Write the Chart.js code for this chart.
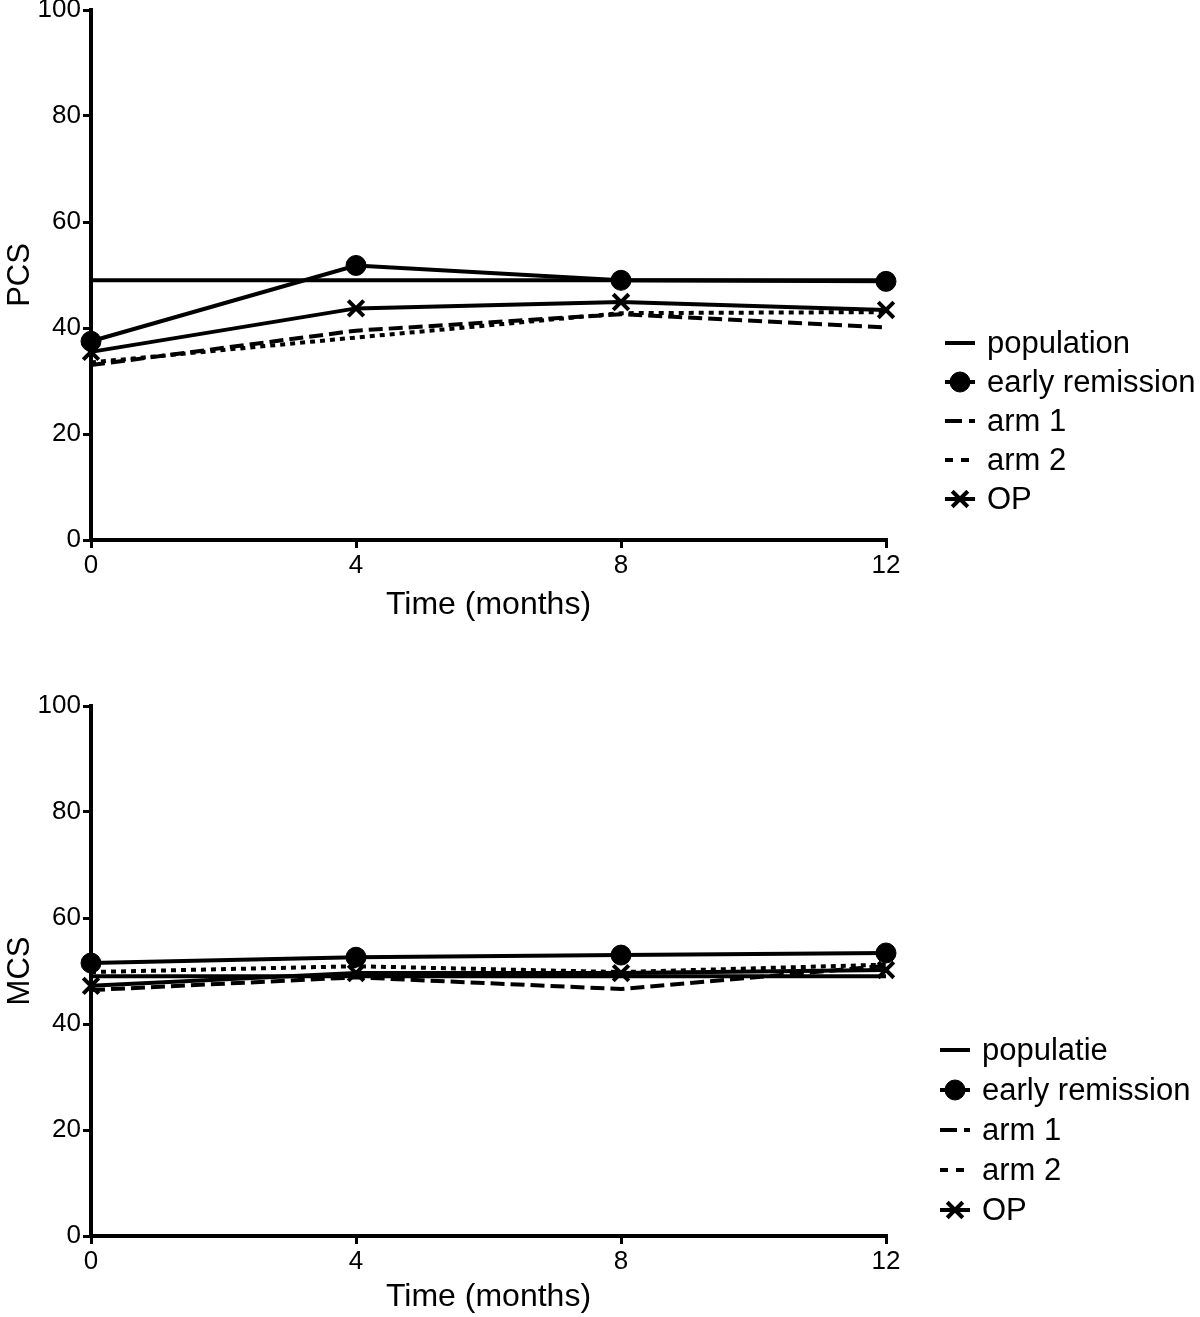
<!DOCTYPE html>
<html>
<head>
<meta charset="utf-8">
<script src="https://cdn.jsdelivr.net/npm/chart.js@4/dist/chart.umd.min.js"></script>
<style>
  html, body { margin: 0; padding: 0; background: #fff; }
  #wrap { width: 1200px; height: 1317px; position: relative; }
  #topBox { position: absolute; left: 0; top: 0; width: 1200px; height: 625px; }
  #botBox { position: absolute; left: 0; top: 625px; width: 1200px; height: 692px; }
</style>
</head>
<body>
<div id="wrap">
  <div id="topBox"><canvas id="pcsChart"></canvas></div>
  <div id="botBox"><canvas id="mcsChart"></canvas></div>
</div>
<script>
// time points (months)
const months = [0, 4, 8, 12];
const yTicks = [0, 20, 40, 60, 80, 100];

// PCS panel
const pcsPopulation = [49, 49, 49, 49];
const pcsEarly = [37.5, 51.8, 49, 48.8];
const pcsArm1 = [33, 39.5, 42.6, 40.1];
const pcsArm2 = [33.5, 38.2, 42.8, 43];
const pcsOP = [35.5, 43.7, 44.9, 43.4];
const pcsLabels = ["population", "early remission", "arm 1", "arm 2", "OP"];

// MCS panel
const mcsPopulation = [49, 49, 49, 49];
const mcsEarly = [51.5, 52.6, 53, 53.4];
const mcsArm1 = [46.4, 48.8, 46.6, 51];
const mcsArm2 = [49.8, 50.9, 49.8, 51.2];
const mcsOP = [47.2, 49.6, 49.6, 50.2];
const mcsLabels = ["populatie", "early remission", "arm 1", "arm 2", "OP"];

const FONT = "'Liberation Sans', Arial, sans-serif";

// Draw the legend on the right, line sample + marker like the original
const sideLegend = {
  id: "sideLegend",
  afterDraw(chart, args, opts) {
    const ctx = chart.ctx;
    ctx.save();
    ctx.font = "31px " + FONT;
    ctx.textBaseline = "middle";
    chart.data.datasets.forEach((ds, i) => {
      const y = opts.y + i * opts.gap;
      const x0 = opts.x, x1 = opts.x + 30;
      ctx.strokeStyle = "#000";
      ctx.fillStyle = "#000";
      ctx.lineWidth = ds.borderWidth;
      ctx.setLineDash(ds.legendDash || []);
      ctx.beginPath();
      ctx.moveTo(x0, y);
      ctx.lineTo(x1, y);
      ctx.stroke();
      ctx.setLineDash([]);
      if (ds.pointRadius > 0) {
        ctx.lineWidth = ds.pointBorderWidth;
        Chart.helpers.drawPoint(ctx, {
          pointStyle: ds.pointStyle,
          radius: ds.pointRadius,
          rotation: 0,
          borderWidth: ds.pointBorderWidth
        }, (x0 + x1) / 2, y);
      }
      ctx.fillText(ds.label, x1 + 12, y + 1);
    });
    ctx.restore();
  }
};

function makeDatasets(labels, pop, early, arm1, arm2, op) {
  const base = { borderColor: "#000", backgroundColor: "#000", borderWidth: 4,
                 tension: 0, clip: false, pointBorderColor: "#000", pointBackgroundColor: "#000" };
  const toXY = arr => months.map((m, i) => ({ x: m, y: arr[i] }));
  return [
    Object.assign({}, base, { label: labels[0], data: toXY(pop), pointRadius: 0 }),
    Object.assign({}, base, { label: labels[1], data: toXY(early), pointStyle: "circle",
                              pointRadius: 10, pointBorderWidth: 1 }),
    Object.assign({}, base, { label: labels[2], data: toXY(arm1), borderDash: [14, 6],
                              legendDash: [17, 7], pointRadius: 0 }),
    Object.assign({}, base, { label: labels[3], data: toXY(arm2), borderDash: [5, 5],
                              legendDash: [8, 8], pointRadius: 0 }),
    Object.assign({}, base, { label: labels[4], data: toXY(op), pointStyle: "crossRot",
                              pointRadius: 11, pointBorderWidth: 4 })
  ];
}

function makeChart(id, yTitle, datasets, padTop, xAxisH, legendPos) {
  new Chart(document.getElementById(id), {
    type: "line",
    data: { datasets },
    options: {
      responsive: true,
      maintainAspectRatio: false,
      animation: false,
      layout: { autoPadding: false, padding: { top: padTop, right: 314, left: 0, bottom: 0 } },
      plugins: { legend: { display: false }, tooltip: { enabled: false }, sideLegend: legendPos },
      scales: {
        x: {
          type: "linear", min: 0, max: 12,
          afterBuildTicks: s => { s.ticks = months.map(v => ({ value: v })); },
          afterFit: s => { s.height = xAxisH; s.paddingRight = 0; s.paddingLeft = 0; },
          grid: { drawOnChartArea: false, drawTicks: true, tickLength: 8, color: "#000", lineWidth: 3 },
          border: { color: "#000", width: 4 },
          ticks: { color: "#000", font: { family: FONT, size: 26 }, padding: 2, maxRotation: 0 },
          title: { display: true, text: "Time (months)", color: "#000",
                   font: { family: FONT, size: 32 }, padding: { top: 0, bottom: 1 } }
        },
        y: {
          min: 0, max: 100,
          afterBuildTicks: s => { s.ticks = yTicks.map(v => ({ value: v })); },
          afterFit: s => { s.width = 91; s.paddingTop = 0; s.paddingBottom = 0; },
          grid: { drawOnChartArea: false, drawTicks: true, tickLength: 8, color: "#000", lineWidth: 3 },
          border: { color: "#000", width: 4 },
          ticks: { color: "#000", font: { family: FONT, size: 26 }, padding: 2 },
          title: { display: true, text: yTitle, color: "#000",
                   font: { family: FONT, size: 31 }, padding: { top: 2, bottom: 4 } }
        }
      }
    },
    plugins: [sideLegend]
  });
}

makeChart("pcsChart", "PCS",
  makeDatasets(pcsLabels, pcsPopulation, pcsEarly, pcsArm1, pcsArm2, pcsOP),
  10, 85, { x: 945, y: 343, gap: 39 });

makeChart("mcsChart", "MCS",
  makeDatasets(mcsLabels, mcsPopulation, mcsEarly, mcsArm1, mcsArm2, mcsOP),
  81, 81, { x: 940, y: 1050 - 625, gap: 40 });
</script>
</body>
</html>
